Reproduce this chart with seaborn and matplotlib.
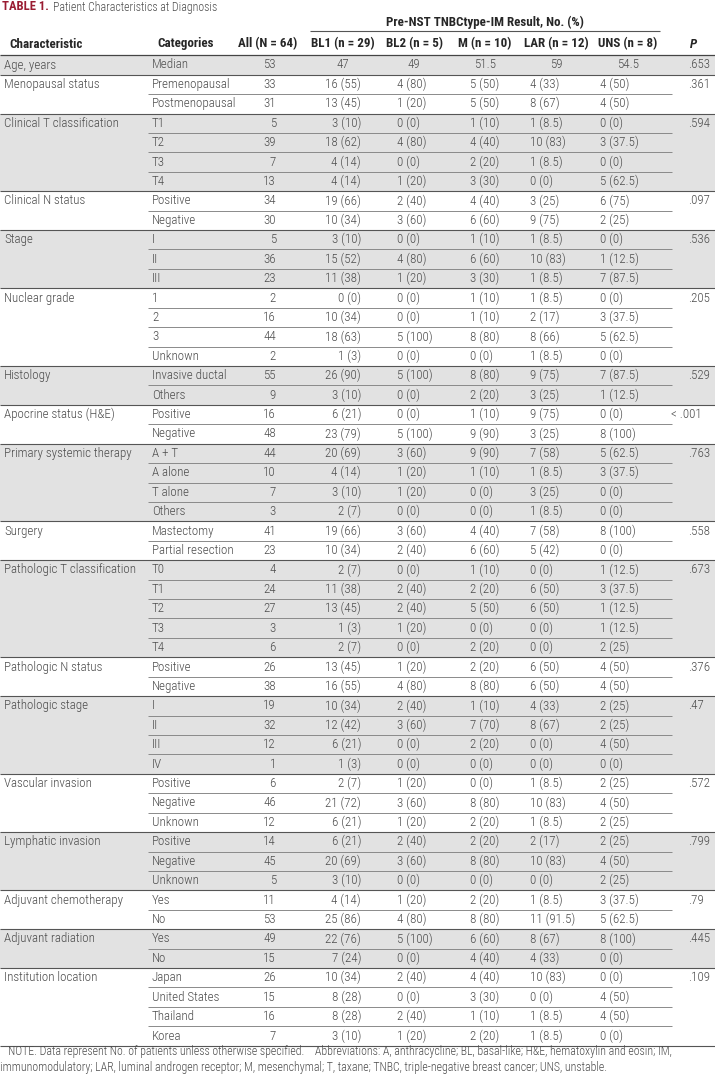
import matplotlib
matplotlib.use("Agg")
import matplotlib.pyplot as plt
import seaborn as sns
import pandas as pd
from matplotlib import font_manager

## data
characteristics = ["Age, years", "Menopausal status", "Clinical T classification",
                   "Clinical N status", "Stage", "Nuclear grade", "Histology",
                   "Apocrine status (H&E)", "Primary systemic therapy", "Surgery",
                   "Pathologic T classification", "Pathologic N status",
                   "Pathologic stage", "Vascular invasion", "Lymphatic invasion",
                   "Adjuvant chemotherapy", "Adjuvant radiation", "Institution location"]
group_sizes = [1, 2, 4, 2, 3, 4, 2, 2, 4, 2, 5, 2, 4, 3, 3, 2, 2, 4]
p_values = [".653", ".361", ".594", ".097", ".536", ".205", ".529", "< .001", ".763",
            ".558", ".673", ".376", ".47", ".572", ".799", ".79", ".445", ".109"]

categories = ["Median",
              "Premenopausal", "Postmenopausal",
              "T1", "T2", "T3", "T4",
              "Positive", "Negative",
              "I", "II", "III",
              "1", "2", "3", "Unknown",
              "Invasive ductal", "Others",
              "Positive", "Negative",
              "A + T", "A alone", "T alone", "Others",
              "Mastectomy", "Partial resection",
              "T0", "T1", "T2", "T3", "T4",
              "Positive", "Negative",
              "I", "II", "III", "IV",
              "Positive", "Negative", "Unknown",
              "Positive", "Negative", "Unknown",
              "Yes", "No",
              "Yes", "No",
              "Japan", "United States", "Thailand", "Korea"]
all_n = ["53", "33", "31", "5", "39", "7", "13", "34", "30", "5", "36", "23",
         "2", "16", "44", "2", "55", "9", "16", "48", "44", "10", "7", "3",
         "41", "23", "4", "24", "27", "3", "6", "26", "38", "19", "32", "12", "1",
         "6", "46", "12", "14", "45", "5", "11", "53", "49", "15", "26", "15", "16", "7"]
bl1 = ["47", "16 (55)", "13 (45)", "3 (10)", "18 (62)", "4 (14)", "4 (14)",
       "19 (66)", "10 (34)", "3 (10)", "15 (52)", "11 (38)",
       "0 (0)", "10 (34)", "18 (63)", "1 (3)", "26 (90)", "3 (10)",
       "6 (21)", "23 (79)", "20 (69)", "4 (14)", "3 (10)", "2 (7)",
       "19 (66)", "10 (34)", "2 (7)", "11 (38)", "13 (45)", "1 (3)", "2 (7)",
       "13 (45)", "16 (55)", "10 (34)", "12 (42)", "6 (21)", "1 (3)",
       "2 (7)", "21 (72)", "6 (21)", "6 (21)", "20 (69)", "3 (10)",
       "4 (14)", "25 (86)", "22 (76)", "7 (24)",
       "10 (34)", "8 (28)", "8 (28)", "3 (10)"]
bl2 = ["49", "4 (80)", "1 (20)", "0 (0)", "4 (80)", "0 (0)", "1 (20)",
       "2 (40)", "3 (60)", "0 (0)", "4 (80)", "1 (20)",
       "0 (0)", "0 (0)", "5 (100)", "0 (0)", "5 (100)", "0 (0)",
       "0 (0)", "5 (100)", "3 (60)", "1 (20)", "1 (20)", "0 (0)",
       "3 (60)", "2 (40)", "0 (0)", "2 (40)", "2 (40)", "1 (20)", "0 (0)",
       "1 (20)", "4 (80)", "2 (40)", "3 (60)", "0 (0)", "0 (0)",
       "1 (20)", "3 (60)", "1 (20)", "2 (40)", "3 (60)", "0 (0)",
       "1 (20)", "4 (80)", "5 (100)", "0 (0)",
       "2 (40)", "0 (0)", "2 (40)", "1 (20)"]
m_sub = ["51.5", "5 (50)", "5 (50)", "1 (10)", "4 (40)", "2 (20)", "3 (30)",
         "4 (40)", "6 (60)", "1 (10)", "6 (60)", "3 (30)",
         "1 (10)", "1 (10)", "8 (80)", "0 (0)", "8 (80)", "2 (20)",
         "1 (10)", "9 (90)", "9 (90)", "1 (10)", "0 (0)", "0 (0)",
         "4 (40)", "6 (60)", "1 (10)", "2 (20)", "5 (50)", "0 (0)", "2 (20)",
         "2 (20)", "8 (80)", "1 (10)", "7 (70)", "2 (20)", "0 (0)",
         "0 (0)", "8 (80)", "2 (20)", "2 (20)", "8 (80)", "0 (0)",
         "2 (20)", "8 (80)", "6 (60)", "4 (40)",
         "4 (40)", "3 (30)", "1 (10)", "2 (20)"]
lar = ["59", "4 (33)", "8 (67)", "1 (8.5)", "10 (83)", "1 (8.5)", "0 (0)",
       "3 (25)", "9 (75)", "1 (8.5)", "10 (83)", "1 (8.5)",
       "1 (8.5)", "2 (17)", "8 (66)", "1 (8.5)", "9 (75)", "3 (25)",
       "9 (75)", "3 (25)", "7 (58)", "1 (8.5)", "3 (25)", "1 (8.5)",
       "7 (58)", "5 (42)", "0 (0)", "6 (50)", "6 (50)", "0 (0)", "0 (0)",
       "6 (50)", "6 (50)", "4 (33)", "8 (67)", "0 (0)", "0 (0)",
       "1 (8.5)", "10 (83)", "1 (8.5)", "2 (17)", "10 (83)", "0 (0)",
       "1 (8.5)", "11 (91.5)", "8 (67)", "4 (33)",
       "10 (83)", "0 (0)", "1 (8.5)", "1 (8.5)"]
uns = ["54.5", "4 (50)", "4 (50)", "0 (0)", "3 (37.5)", "0 (0)", "5 (62.5)",
       "6 (75)", "2 (25)", "0 (0)", "1 (12.5)", "7 (87.5)",
       "0 (0)", "3 (37.5)", "5 (62.5)", "0 (0)", "7 (87.5)", "1 (12.5)",
       "0 (0)", "8 (100)", "5 (62.5)", "3 (37.5)", "0 (0)", "0 (0)",
       "8 (100)", "0 (0)", "1 (12.5)", "3 (37.5)", "1 (12.5)", "1 (12.5)", "2 (25)",
       "4 (50)", "4 (50)", "2 (25)", "2 (25)", "4 (50)", "0 (0)",
       "2 (25)", "4 (50)", "2 (25)", "2 (25)", "4 (50)", "2 (25)",
       "3 (37.5)", "5 (62.5)", "8 (100)", "0 (0)",
       "0 (0)", "4 (50)", "4 (50)", "0 (0)"]

headers = ["Characteristic", "Categories", "All (N = 64)", "BL1 (n = 29)",
           "BL2 (n = 5)", "M (n = 10)", "LAR (n = 12)", "UNS (n = 8)", "P"]
spanner = "Pre-NST TNBCtype-IM Result, No. (%)"
note_1 = ("NOTE. Data represent No. of patients unless otherwise specified.    "
          "Abbreviations: A, anthracycline; BL, basal-like; H&E, hematoxylin and eosin; IM,")
note_2 = ("immunomodulatory; LAR, luminal androgen receptor; M, mesenchymal; T, taxane; "
          "TNBC, triple-negative breast cancer; UNS, unstable.")

df = pd.DataFrame({"category": categories, "all": all_n, "bl1": bl1, "bl2": bl2,
                   "m": m_sub, "lar": lar, "uns": uns})
df["group"] = [g for g, n in enumerate(group_sizes) for _ in range(n)]

## style
sns.set_theme(style="white")
installed = {f.name for f in font_manager.fontManager.ttflist}
base = "DejaVu Sans"
for fam in ["Roboto Condensed", "Liberation Sans Narrow", "Open Sans Condensed", "Liberation Sans"]:
    if fam in installed:
        base = fam
        break
plt.rcParams["font.family"] = [base, "DejaVu Sans"]

TXT = "#4d4d4d"
HEAD = "#262626"
BAND = "#e2e2e2"
FS = 9.4
LIGHT = "light"

# layout (pixel units of a 715 x 1077 canvas)
TOP, ROW_H = 65.0, 19.42
cols = {  # key: (x, align for values, header centre)
    "all": (276, "right", 268),
    "bl1": (361, "right", 343),
    "bl2": (397, "left", 414),
    "m": (470, "left", 485),
    "lar": (530, "left", 556),
    "uns": (600, "left", 628),
}

fig = plt.figure(figsize=(7.15, 10.77), dpi=100)
ax = fig.add_axes([0, 0, 1, 1])
ax.set_xlim(0, 715)
ax.set_ylim(1077, 0)
ax.axis("off")

row_y = TOP + df.index.to_numpy() * ROW_H

# title
t1 = ax.text(2, 7, "TABLE 1.", fontsize=9.1, fontweight="bold", color="#9a1c32", va="center")
fig.canvas.draw()
bb = t1.get_window_extent(fig.canvas.get_renderer())
x_end = ax.transData.inverted().transform((bb.x1, bb.y0))[0]
ax.text(x_end + 4, 7, "Patient Characteristics at Diagnosis", fontsize=8.6,
        fontweight=LIGHT, color=TXT, va="center")

# headers
ax.text(485, 22, spanner, fontsize=FS, fontweight="bold", color=HEAD, ha="center", va="center")
ax.hlines(31, 310, 660, color="#555555", lw=0.8)
ax.text(9, 44, headers[0], fontsize=FS, fontweight="bold", color=HEAD, va="center")
ax.text(186, 44, headers[1], fontsize=FS, fontweight="bold", color=HEAD, ha="center", va="center")
for h, key in zip(headers[2:8], cols):
    ax.text(cols[key][2], 44, h, fontsize=FS, fontweight="bold", color=HEAD, ha="center", va="center")
ax.text(694, 44, headers[8], fontsize=FS, fontweight="bold", style="italic", color=HEAD,
        ha="center", va="center")
ax.hlines(TOP - ROW_H / 2, 0, 715, color="#444444", lw=0.9)

# group bands and rules
start = 0
for g, n in enumerate(group_sizes):
    top = TOP + (start - 0.5) * ROW_H
    bottom = TOP + (start + n - 0.5) * ROW_H
    if g % 2 == 0:
        ax.axhspan(top, bottom, color=BAND, lw=0, zorder=0)
    for k in range(1, n):
        yy = TOP + (start + k - 0.5) * ROW_H
        ax.hlines(yy, 148, 672, color="#8a8a8a", lw=0.7)
    ax.hlines(bottom, 0, 715, color="#555555", lw=0.8)
    ax.text(4, TOP + start * ROW_H, characteristics[g], fontsize=FS, fontweight=LIGHT,
            color=TXT, va="center")
    pv = p_values[g]
    ax.text(688 if not pv.startswith("<") else 671, TOP + start * ROW_H, pv,
            fontsize=FS, fontweight=LIGHT, color=TXT, va="center")
    start += n

# cells
for i, row in df.iterrows():
    y = row_y[i]
    ax.text(152, y, row["category"], fontsize=FS, fontweight=LIGHT, color=TXT, va="center")
    for key, (x, align, hc) in cols.items():
        s = row[key]
        if key != "all" and "(" not in s:
            ax.text(hc, y, s, fontsize=FS, fontweight=LIGHT, color=TXT, ha="center", va="center")
        else:
            ax.text(x, y, s, fontsize=FS, fontweight=LIGHT, color=TXT, ha=align, va="center")

# footnote
ax.text(8, 1052, note_1, fontsize=8.6, fontweight=LIGHT, color=TXT, va="center")
ax.text(0, 1068, note_2, fontsize=8.6, fontweight=LIGHT, color=TXT, va="center")

fig.savefig("out.png", dpi=100)
